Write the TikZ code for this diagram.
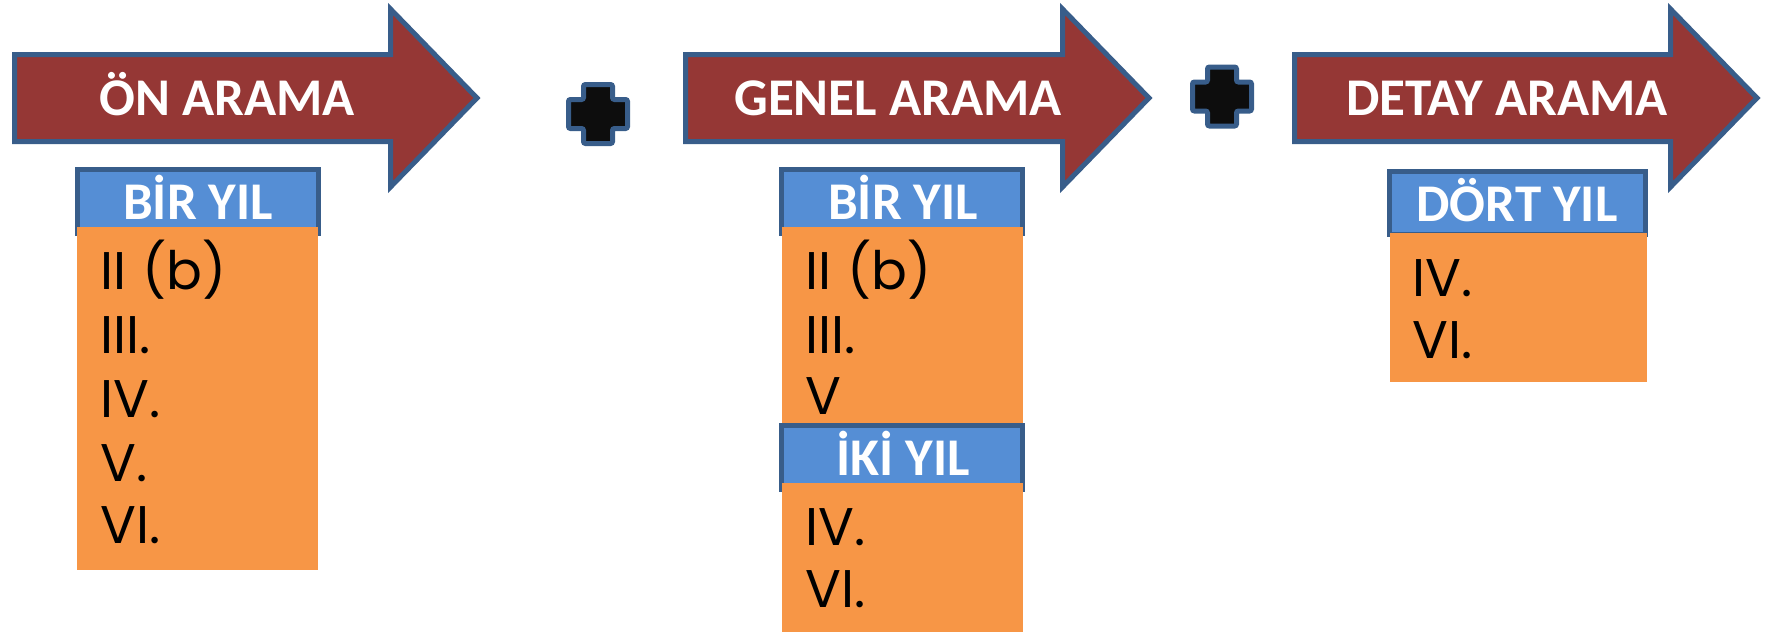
\documentclass[tikz,border=0pt]{standalone}
\usepackage{fontspec}
\newfontfamily\hdrfont{Carlito}[BoldFont={* Bold}]
\newfontfamily\bodyfont{Poppins}
\definecolor{arrowred}{HTML}{953735}
\definecolor{edgeblue}{HTML}{385D8A}
\definecolor{hdrblue}{HTML}{558ED5}
\definecolor{boxorange}{HTML}{F79646}
\definecolor{crossblack}{HTML}{0D0D0D}
\tikzset{
  bigarrow/.style={fill=arrowred,draw=edgeblue,line width=5pt,line join=miter},
  hdrbox/.style={fill=hdrblue,draw=edgeblue,line width=5pt},
  bodybox/.style={fill=boxorange},
  pluscross/.style={fill=crossblack,draw=edgeblue,line width=5pt,rounded corners=2pt},
  arrowtext/.style={anchor=base,inner sep=0pt,text=white,font=\hdrfont\bfseries\fontsize{53}{60}\selectfont},
  hdrtext/.style={anchor=base,inner sep=0pt,text=white,font=\hdrfont\bfseries\fontsize{53}{58}\selectfont},
  itemtext/.style={anchor=base west,inner sep=0pt,text=black,font=\bodyfont\fontsize{53}{64}\selectfont},
}
\begin{document}
\begin{tikzpicture}[x=1pt,y=-1pt]
\useasboundingbox (0,0) rectangle (1765,632);
% arrows
\draw[bigarrow] (14.5,54.5) -- (390.5,54.5) -- (390.5,9) -- (477,98) -- (390.5,187) -- (390.5,141.5) -- (14.5,141.5) -- cycle;
\draw[bigarrow] (685.5,54.5) -- (1062.5,54.5) -- (1062.5,9) -- (1149,98) -- (1062.5,187) -- (1062.5,141.5) -- (685.5,141.5) -- cycle;
\draw[bigarrow] (1294.5,54.5) -- (1670.5,54.5) -- (1670.5,9) -- (1757,98) -- (1670.5,187) -- (1670.5,141.5) -- (1294.5,141.5) -- cycle;
\node[arrowtext] (t1) at (227,115) {ÖN ARAMA};
\node[arrowtext] (t2) at (898,115) {GENEL ARAMA};
\node[arrowtext] (t3) at (1507,115) {DETAY ARAMA};
% crosses
\begin{scope}[shift={(598,114)}]
\draw[pluscross] (-14.5,-29.5) -- (14.5,-29.5) -- (14.5,-14.5) -- (29.5,-14.5) -- (29.5,14.5) -- (14.5,14.5) -- (14.5,29.5) -- (-14.5,29.5) -- (-14.5,14.5) -- (-29.5,14.5) -- (-29.5,-14.5) -- (-14.5,-14.5) -- cycle;
\end{scope}
\begin{scope}[shift={(1222,96.5)}]
\draw[pluscross] (-14.5,-29.5) -- (14.5,-29.5) -- (14.5,-14.5) -- (29.5,-14.5) -- (29.5,14.5) -- (14.5,14.5) -- (14.5,29.5) -- (-14.5,29.5) -- (-14.5,14.5) -- (-29.5,14.5) -- (-29.5,-14.5) -- (-14.5,-14.5) -- cycle;
\end{scope}
% column 1
\draw[hdrbox] (77.5,169.5) rectangle (318.5,233.5);
\fill[bodybox] (77,227) rectangle (318,570);
\node[hdrtext] (h1) at (198,219) {BİR YIL};
\node[itemtext] (a1) at (100,289) {II\hspace{16pt}(b)};
\node[itemtext] (a2) at (100,353) {III.};
\node[itemtext] (a3) at (100,417) {IV.};
\node[itemtext] (a4) at (100,481) {V.};
\node[itemtext] (a5) at (100,543) {VI.};
% column 2
\draw[hdrbox] (781.5,169.5) rectangle (1022.5,233.5);
\fill[bodybox] (782,227) rectangle (1023,426);
\node[hdrtext] (h2) at (903,219) {BİR YIL};
\node[itemtext] (b1) at (805,289) {II\hspace{16pt}(b)};
\node[itemtext] (b2) at (805,353) {III.};
\node[itemtext] (b3) at (805,414) {V};
\draw[hdrbox] (781.5,425.5) rectangle (1022.5,489.5);
\fill[bodybox] (782,483) rectangle (1023,632);
\node[hdrtext] (h3) at (903,475) {İKİ YIL};
\node[itemtext] (b4) at (805,545) {IV.};
\node[itemtext] (b5) at (805,607) {VI.};
% column 3
\draw[hdrbox] (1389.5,171.5) rectangle (1645.5,234.5);
\fill[bodybox] (1390,233) rectangle (1647,382);
\node[hdrtext] (h4) at (1517,221) {DÖRT YIL};
\node[itemtext] (c1) at (1412,296) {IV.};
\node[itemtext] (c2) at (1412,358) {VI.};
\end{tikzpicture}
\end{document}
